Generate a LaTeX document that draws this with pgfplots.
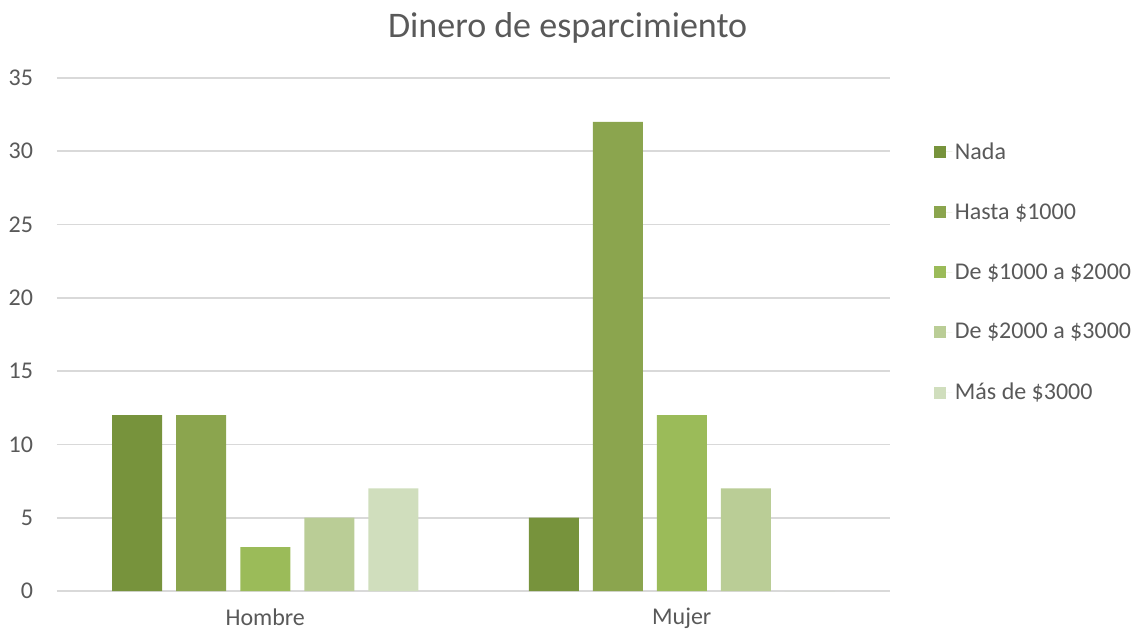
\documentclass[border=0pt]{standalone}
\usepackage{pgfplots}
\pgfplotsset{compat=1.18}
\usepackage{fontspec}
\setmainfont{Carlito}
\definecolor{cA}{HTML}{77933C}
\definecolor{cB}{HTML}{8BA54E}
\definecolor{cC}{HTML}{9BBB59}
\definecolor{cD}{HTML}{BACD96}
\definecolor{cE}{HTML}{D0DEBD}
\definecolor{txt}{HTML}{595959}
\definecolor{grd}{HTML}{D9D9D9}
\begin{document}
\begin{tikzpicture}[x=0.75pt,y=0.75pt]
\useasboundingbox (-57,-41) rectangle (1075,591);
\begin{axis}[
  at={(0,0)}, anchor=south west,
  scale only axis,
  width=624.75pt, height=384.75pt,
  ybar, bar width=37.5pt, ybar=10.5pt,
  xmin=-0.5, xmax=1.5, ymin=0, ymax=35,
  xtick={0,1}, xticklabels={Hombre,Mujer},
  ytick={0,5,...,35},
  axis line style={draw=none},
  major tick length=0pt,
  ymajorgrids, grid style={grd, line width=1.2pt},
  tick label style={font=\fontsize{18}{20}\selectfont, text=txt},
  /pgf/number format/assume math mode=true,
  yticklabel style={xshift=-14.5pt},
  xticklabel style={yshift=-9.5pt},
  title={Dinero de esparcimiento},
  title style={font=\fontsize{27}{30}\selectfont, text=txt, at={(0.613,1.0)}, anchor=south, yshift=16.5pt},
  legend cell align=left,
  legend style={draw=none, fill=none, at={(1.048,0.885)}, anchor=north west,
     font=\fontsize{18}{20}\selectfont, text=txt, row sep=27.75pt},
  legend image code/.code={\fill[#1] (0pt,-4.5pt) rectangle (9pt,4.5pt); \path (0pt,0pt) -- (13.5pt,0pt);},
]
\addplot[fill=cA, draw=none] coordinates {(0,12) (1,5)};
\addplot[fill=cB, draw=none] coordinates {(0,12) (1,32)};
\addplot[fill=cC, draw=none] coordinates {(0,3) (1,12)};
\addplot[fill=cD, draw=none] coordinates {(0,5) (1,7)};
\addplot[fill=cE, draw=none] coordinates {(0,7) (1,0)};
\legend{Nada, Hasta \$1000, De \$1000 a \$2000, De \$2000 a \$3000, Más de \$3000}
\end{axis}
\end{tikzpicture}
\end{document}
